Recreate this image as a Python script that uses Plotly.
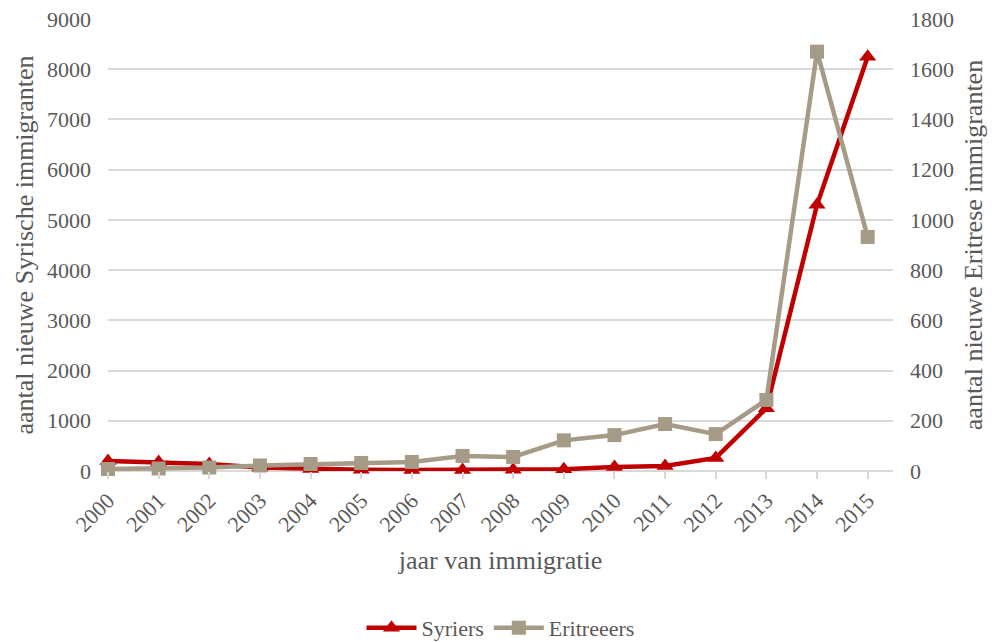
import plotly.graph_objects as go

years = [2000, 2001, 2002, 2003, 2004, 2005, 2006, 2007, 2008, 2009, 2010, 2011, 2012, 2013, 2014, 2015]
syriers = [200, 180, 140, 70, 40, 25, 20, 20, 25, 35, 80, 100, 260, 1250, 5300, 8250]
eritreeers = [8, 10, 14, 22, 28, 32, 36, 60, 56, 122, 143, 187, 147, 283, 1670, 932]

red = "#C00000"
tan = "#A59B87"
grey = "#595959"
gridc = "#D9D9D9"
font_family = "Liberation Serif, serif"

fig = go.Figure()
fig.add_trace(go.Scatter(
    x=years, y=syriers, name="Syriers", mode="lines+markers",
    line=dict(color=red, width=4.5),
    marker=dict(symbol="triangle-up", size=15, color=red),
    yaxis="y", cliponaxis=False,
))
fig.add_trace(go.Scatter(
    x=years, y=eritreeers, name="Eritreeers", mode="lines+markers",
    line=dict(color=tan, width=4.5),
    marker=dict(symbol="square", size=14, color=tan),
    yaxis="y2", cliponaxis=False,
))

fig.update_layout(
    width=998, height=642,
    margin=dict(l=108, r=105, t=19, b=171, autoexpand=False),
    paper_bgcolor="white", plot_bgcolor="white",
    font=dict(family=font_family, size=22, color=grey),
    showlegend=True,
    legend=dict(orientation="h", x=0.5, xanchor="center", yref="container", y=0.022, yanchor="middle",
                font=dict(size=22, color=grey), itemwidth=50),
    xaxis=dict(
        range=[2000, 2015.5], tickvals=years, ticktext=[str(y) for y in years],
        tickangle=-45, showgrid=False, zeroline=False, automargin=False,
        showline=False, ticks="outside", ticklen=7, tickcolor=gridc, tickwidth=1.5,
        tickfont=dict(size=22, color=grey),
        title=dict(text="jaar van immigratie", font=dict(size=26, color=grey), standoff=14),
    ),
    yaxis=dict(
        range=[0, 9000], dtick=1000, showgrid=True, gridcolor=gridc, gridwidth=1.5,
        zeroline=True, zerolinecolor=gridc, zerolinewidth=1.5, automargin=False,
        tickfont=dict(size=22, color=grey), ticks="", ticklabelstandoff=16,
        title=dict(text="aantal nieuwe Syrische immigranten", font=dict(size=26, color=grey), standoff=5),
    ),
    yaxis2=dict(
        range=[0, 1800], dtick=200, overlaying="y", side="right", showgrid=False,
        zeroline=False, automargin=False, tickfont=dict(size=22, color=grey), ticks="",
        ticklabelstandoff=16,
        title=dict(text="aantal nieuwe Eritrese immigranten", font=dict(size=26, color=grey), standoff=10),
    ),
)

fig.write_html("out.html", config={"displayModeBar": False},
               post_script="document.body.style.margin='0';document.body.style.overflow='hidden';")
